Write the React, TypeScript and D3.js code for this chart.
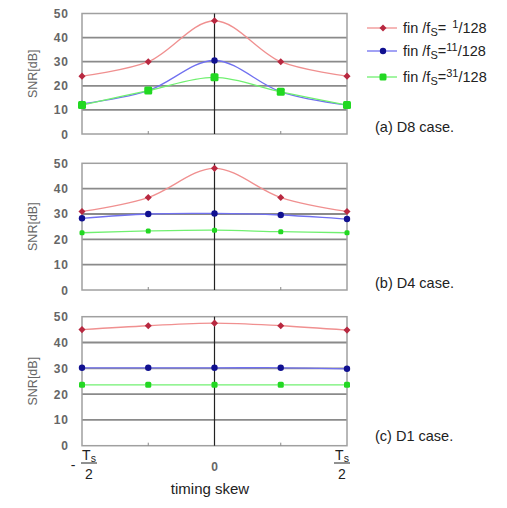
import React from "react";
import * as d3 from "d3";

const xPositions = [-2, -1, 0, 1, 2];
const yTicks = [0, 10, 20, 30, 40, 50];
const seriesNames = ["1", "11", "31"];

const d8Red = [24, 30, 47, 30, 24];
const d8Blue = [12.5, 18, 30.5, 17.5, 12];
const d8Green = [12, 18, 23.5, 17.5, 12];

const d4Red = [31, 36.5, 48, 36.5, 31];
const d4Blue = [28.3, 30, 30.2, 29.6, 28];
const d4Green = [22.6, 23.3, 23.6, 23, 22.6];

const d1Red = [45, 46.5, 47.5, 46.5, 44.8];
const d1Blue = [30.2, 30.2, 30.2, 30.2, 29.8];
const d1Green = [23.6, 23.6, 23.6, 23.6, 23.6];

const panelCaptions = ["(a) D8 case.", "(b) D4 case.", "(c) D1 case."];

const colors = [
  { line: "#f09090", marker: "#b82840" },
  { line: "#7070f0", marker: "#101090" },
  { line: "#70f070", marker: "#22d822" },
];

const panels = [
  { top: 13.5, bottom: 134, data: [d8Red, d8Blue, d8Green], greenSize: 8 },
  { top: 163.3, bottom: 290, data: [d4Red, d4Blue, d4Green], greenSize: 5 },
  { top: 316.7, bottom: 445.7, data: [d1Red, d1Blue, d1Green], greenSize: 6 },
];

const FONT = "Arial, 'Liberation Sans', sans-serif";

function Marker({ idx, x, y, gs }: { idx: number; x: number; y: number; gs: number }) {
  const c = colors[idx].marker;
  if (idx === 0) return <rect x={x - 2.5} y={y - 2.5} width={5} height={5} fill={c} transform={`rotate(45 ${x} ${y})`} />;
  if (idx === 1) return <circle cx={x} cy={y} r={3.2} fill={c} />;
  return <rect x={x - gs / 2} y={y - gs / 2} width={gs} height={gs} fill={c} rx={1.5} />;
}

export default function App() {
  const x = d3.scaleLinear().domain([-2, 2]).range([82, 347]);
  return (
    <svg width={507} height={508} style={{ position: "absolute", left: 0, top: 0, background: "#fff" }}>
      {panels.map((p, pi) => {
        const y = d3.scaleLinear().domain([0, 50]).range([p.bottom, p.top]);
        const line = d3
          .line<number>()
          .x((_, i) => x(xPositions[i]))
          .y((d) => y(d))
          .curve(d3.curveCatmullRom.alpha(0.5));
        return (
          <g key={pi}>
            {yTicks.filter((t) => t > 0 && t < 50).map((t) => (
              <line key={t} x1={x(-2)} x2={x(2)} y1={y(t)} y2={y(t)} stroke="#8a8a8a" strokeWidth={1.8} />
            ))}
            <rect x={x(-2)} y={y(50)} width={x(2) - x(-2)} height={y(0) - y(50)} fill="none" stroke="#a0a0a0" strokeWidth={1.5} />
            <line x1={x(0)} x2={x(0)} y1={y(50)} y2={y(0)} stroke="#222" strokeWidth={1.2} />
            {[-1, 1].map((v) => (
              <line key={v} x1={x(v)} x2={x(v)} y1={y(0)} y2={y(0) - 3} stroke="#888" strokeWidth={1} />
            ))}
            {yTicks.map((t) => (
              <text key={t} x={69} y={y(t) + 4.5} textAnchor="end" fontSize={12} fontWeight="bold" letterSpacing={1} fill="#666" fontFamily={FONT}>
                {t}
              </text>
            ))}
            <text
              transform={`translate(37 ${(y(0) + y(50)) / 2}) rotate(-90)`}
              textAnchor="middle"
              fontSize={12.5}
              fill="#666"
              fontFamily={FONT}
            >
              SNR[dB]
            </text>
            {p.data.map((s, si) => (
              <path key={si} d={line(s) || ""} fill="none" stroke={colors[si].line} strokeWidth={1.3} />
            ))}
            {p.data.map((s, si) =>
              s.map((v, i) => <Marker key={`${si}-${i}`} idx={si} x={x(xPositions[i])} y={y(v)} gs={p.greenSize} />)
            )}
            <text x={375} y={[132, 288, 441][pi]} fontSize={14.5} fill="#222" fontFamily={FONT}>
              {panelCaptions[pi]}
            </text>
          </g>
        );
      })}
      {seriesNames.map((n, i) => {
        const ly = [28, 51, 77][i];
        return (
          <g key={n}>
            <line x1={367} x2={397} y1={ly} y2={ly} stroke={colors[i].line} strokeWidth={1.3} />
            <Marker idx={i} x={383} y={ly} gs={7} />
            <text x={403} y={ly + 5} fontSize={14.5} fill="#222" fontFamily={FONT}>
              fin /f<tspan fontSize={11} dy={3}>S</tspan>
              <tspan dy={-3}>=</tspan>
              <tspan fontSize={11} dy={-5}>{n.length === 1 ? "\u00a0\u00a0" + n : n}</tspan>
              <tspan dy={5}>/128</tspan>
            </text>
          </g>
        );
      })}
      {/* x-axis labels */}
      <g fontFamily={FONT} fill="#222">
        <text x={73} y={470} fontSize={14} textAnchor="middle">-</text>
        <text x={89} y={460} fontSize={14} textAnchor="middle">
          T<tspan fontSize={10.5} dy={2}>s</tspan>
        </text>
        <line x1={81} x2={97} y1={463} y2={463} stroke="#222" strokeWidth={1} />
        <text x={89} y={479} fontSize={14} textAnchor="middle">2</text>
        <text x={x(0)} y={471} fontSize={12} fontWeight="bold" fill="#666" textAnchor="middle">0</text>
        <text x={342} y={460} fontSize={14} textAnchor="middle">
          T<tspan fontSize={10.5} dy={2}>s</tspan>
        </text>
        <line x1={334} x2={350} y1={463} y2={463} stroke="#222" strokeWidth={1} />
        <text x={342} y={479} fontSize={14} textAnchor="middle">2</text>
        <text x={210} y={494} fontSize={15} textAnchor="middle">timing skew</text>
      </g>
    </svg>
  );
}
